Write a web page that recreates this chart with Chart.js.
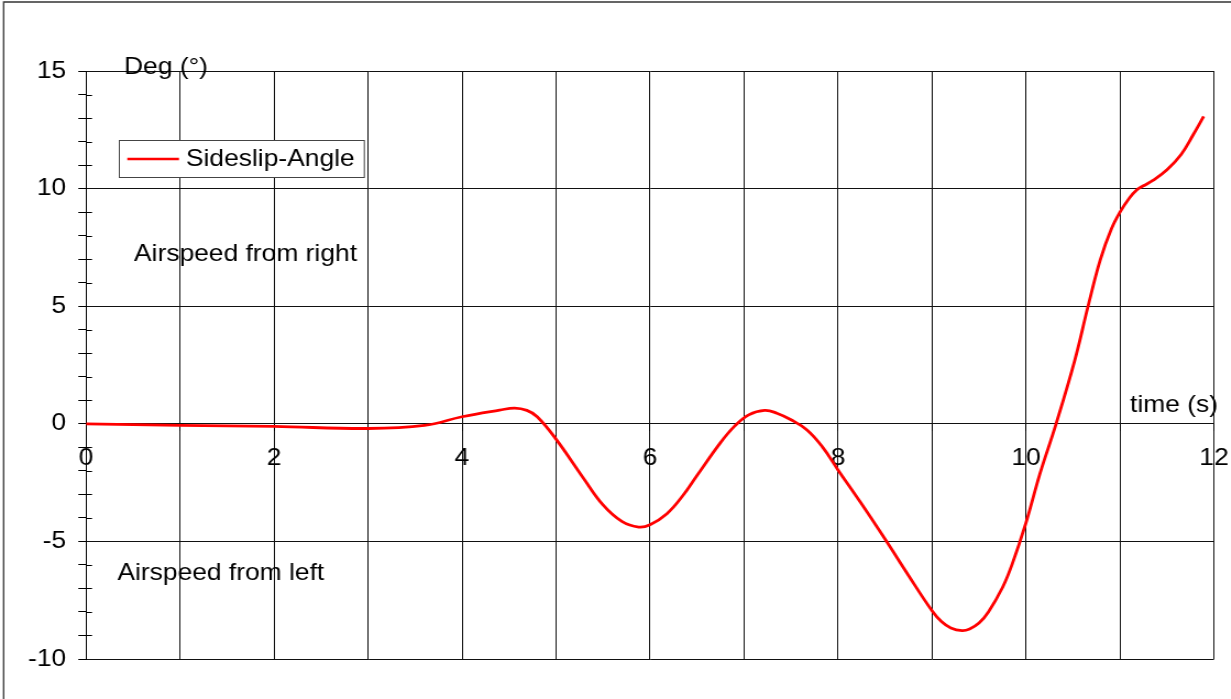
<!DOCTYPE html>
<html>
<head>
<meta charset="utf-8">
<script src="https://cdn.jsdelivr.net/npm/chart.js@4/dist/chart.umd.min.js"></script>
<style>
  html, body { margin: 0; padding: 0; background: #fff; overflow: hidden; }
  /* the drawing is laid out on a narrower canvas and widened by 10% */
  #c { display: block; transform: scaleX(1.1); transform-origin: 0 0; }
</style>
</head>
<body>
<canvas id="c" width="1119" height="699"></canvas>
<script>
// Sideslip angle over time
const timeS = [0, 1, 2, 3, 3.6, 4.0, 4.4, 4.56, 4.69, 4.8, 5.0, 5.29, 5.5, 5.7, 5.88, 6.0,
  6.18, 6.35, 6.5, 6.75, 6.9, 7.05, 7.22, 7.35, 7.5, 7.67, 7.83, 8.0, 8.25, 8.5, 8.75, 9.0, 9.1, 9.2, 9.32, 9.4, 9.5, 9.6, 9.75, 9.85,
  10.0, 10.15, 10.32, 10.52, 10.66, 10.79, 10.91, 11.0, 11.1, 11.18, 11.25, 11.35, 11.5, 11.65, 11.78, 11.89];
const sideslipDeg = [0, -0.07, -0.11, -0.2, -0.07, 0.3, 0.58, 0.67, 0.57, 0.3, -0.65, -2.3, -3.45, -4.15, -4.39, -4.29,
  -3.82, -3.05, -2.2, -0.8, -0.1, 0.38, 0.57, 0.45, 0.17, -0.26, -0.96, -1.96, -3.4, -4.9, -6.45, -7.95, -8.41, -8.68, -8.79, -8.72, -8.47, -8.0, -6.96, -6.0,
  -4.2, -2.1, 0, 2.72, 5.0, 6.97, 8.3, 9.0, 9.6, 9.95, 10.12, 10.35, 10.8, 11.45, 12.3, 13.07];
const seriesName = 'Sideslip-Angle';
const xLabelledTicks = [0, 2, 4, 6, 8, 10, 12];
const yLabelledTicks = [-10, -5, 0, 5, 10, 15];
const yAxisTitle = 'Deg (°)';
const xAxisTitle = 'time (s)';
const noteRight = 'Airspeed from right';
const noteLeft = 'Airspeed from left';

const FONT = '"Liberation Sans", Arial, sans-serif';
const GRID = '#111';

const points = timeS.map((t, i) => ({ x: t, y: sideslipDeg[i] }));

const decorations = {
  id: 'decorations',
  afterDraw(chart) {
    const { ctx, scales } = chart;
    const ys = scales.y;
    const axisX = ys.right;
    ctx.save();

    // right half of the minor ticks on the value axis
    ctx.strokeStyle = '#000';
    ctx.lineWidth = 1;
    ys.ticks.forEach(t => {
      if (t.value % 5 !== 0) {
        const py = Math.round(ys.getPixelForValue(t.value)) + 0.5;
        ctx.beginPath();
        ctx.moveTo(axisX, py);
        ctx.lineTo(axisX + 5.5, py);
        ctx.stroke();
      }
    });

    // outer frame
    ctx.strokeStyle = '#333';
    ctx.lineWidth = 1.3;
    ctx.beginPath();
    ctx.moveTo(3.3, chart.height + 2);
    ctx.lineTo(3.3, 2);
    ctx.lineTo(chart.width + 2, 2);
    ctx.stroke();

    // texts
    ctx.fillStyle = '#000';
    ctx.font = '24px ' + FONT;
    ctx.textAlign = 'left';
    ctx.textBaseline = 'alphabetic';
    ctx.fillText(yAxisTitle, 112.7, 74);
    ctx.fillText(xAxisTitle, 1027.3, 412);
    ctx.fillText(noteRight, 121.8, 261);
    ctx.fillText(noteLeft, 106.7, 580);

    // legend box
    const ds = chart.data.datasets[0];
    const bx = 108.5, by = 140.5, bw = 222.7, bh = 37;
    ctx.fillStyle = '#fff';
    ctx.fillRect(bx, by, bw, bh);
    ctx.strokeStyle = '#444';
    ctx.lineWidth = 1;
    ctx.strokeRect(bx, by, bw, bh);
    ctx.strokeStyle = ds.borderColor;
    ctx.lineWidth = 2.5;
    ctx.beginPath();
    ctx.moveTo(115.7, 159);
    ctx.lineTo(162.7, 159);
    ctx.stroke();
    ctx.fillStyle = '#000';
    ctx.textBaseline = 'middle';
    ctx.fillText(ds.label, 169, 159.5);
    ctx.restore();
  }
};

new Chart(document.getElementById('c'), {
  type: 'line',
  data: {
    datasets: [{
      label: seriesName,
      data: points,
      borderColor: '#ff0000',
      borderWidth: 2.8,
      pointRadius: 0,
      tension: 0.4,
      fill: false
    }]
  },
  options: {
    responsive: false,
    animation: false,
    devicePixelRatio: 1,
    layout: { padding: { left: 0, top: 71, right: 15.36, bottom: 40 } },
    plugins: { legend: { display: false }, tooltip: { enabled: false } },
    scales: {
      x: {
        type: 'linear',
        position: { y: 0 },
        min: 0,
        max: 12,
        afterFit(s) { s.height = 0; s.paddingLeft = 0; s.paddingRight = 0; },
        ticks: {
          stepSize: 1,
          autoSkip: false,
          maxRotation: 0,
          padding: 13,
          color: '#000',
          font: { family: FONT, size: 24 },
          callback: v => (xLabelledTicks.includes(v) ? String(v) : '')
        },
        grid: { color: GRID, lineWidth: 1, tickColor: '#000', tickLength: 7 },
        border: { color: GRID, width: 1 }
      },
      y: {
        type: 'linear',
        position: 'left',
        min: -10,
        max: 15,
        afterFit(s) { s.width = 78.18; s.paddingTop = 0; s.paddingBottom = 0; },
        ticks: {
          stepSize: 1,
          autoSkip: false,
          padding: 11,
          color: '#000',
          font: { family: FONT, size: 24 },
          callback: v => (yLabelledTicks.includes(v) ? String(v) : '')
        },
        grid: {
          color: c => (c.tick && c.tick.value % 5 === 0 ? GRID : 'rgba(0,0,0,0)'),
          lineWidth: 1,
          tickColor: '#000',
          tickLength: 7
        },
        border: { color: '#000', width: 1 }
      }
    }
  },
  plugins: [decorations]
});
</script>
</body>
</html>
